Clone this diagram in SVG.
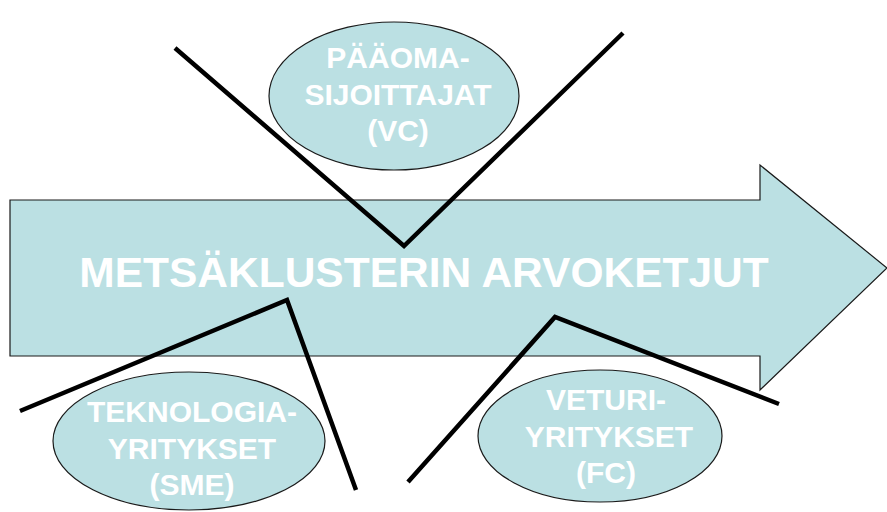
<svg xmlns="http://www.w3.org/2000/svg" width="887" height="512" viewBox="0 0 887 512">
  <style>
    .shape { fill: #BBE0E3; stroke: #1a1a1a; stroke-width: 1.2; }
    .label { fill: #ffffff; font-family: "Liberation Sans", Arial, sans-serif; font-weight: bold; text-anchor: middle; }
    .small { font-size: 30px; }
    .big { font-size: 42.5px; }
    .link { fill: none; stroke: #000000; stroke-width: 4.5; stroke-linejoin: miter; }
  </style>
  <rect width="887" height="512" fill="#ffffff"/>

  <!-- value chain arrow -->
  <g id="value-chain">
    <polygon class="shape" points="10,200 760,200 760,165 887,268 760,390 760,356 10,356"/>
    <text class="label big" x="424" y="287">METSÄKLUSTERIN ARVOKETJUT</text>
  </g>

  <!-- venture capital -->
  <g id="vc">
    <ellipse class="shape" cx="394" cy="96" rx="125" ry="74"/>
    <text class="label small" x="398" y="68">PÄÄOMA-</text>
    <text class="label small" x="398" y="105">SIJOITTAJAT</text>
    <text class="label small" x="398" y="141">(VC)</text>
  </g>

  <!-- technology companies -->
  <g id="sme">
    <ellipse class="shape" cx="189" cy="441" rx="136" ry="69"/>
    <text class="label small" x="192" y="422">TEKNOLOGIA-</text>
    <text class="label small" x="192" y="459">YRITYKSET</text>
    <text class="label small" x="192" y="495">(SME)</text>
  </g>

  <!-- flagship companies -->
  <g id="fc">
    <ellipse class="shape" cx="600" cy="436" rx="122" ry="66"/>
    <text class="label small" x="606" y="410">VETURI-</text>
    <text class="label small" x="609" y="447">YRITYKSET</text>
    <text class="label small" x="606" y="483">(FC)</text>
  </g>

  <!-- connectors -->
  <g id="connectors">
    <polyline class="link" points="175,48 404,246 623,33"/>
    <polyline class="link" points="20,411 287,300 356,490"/>
    <polyline class="link" points="408,482 555,317 779,404"/>
  </g>
</svg>
